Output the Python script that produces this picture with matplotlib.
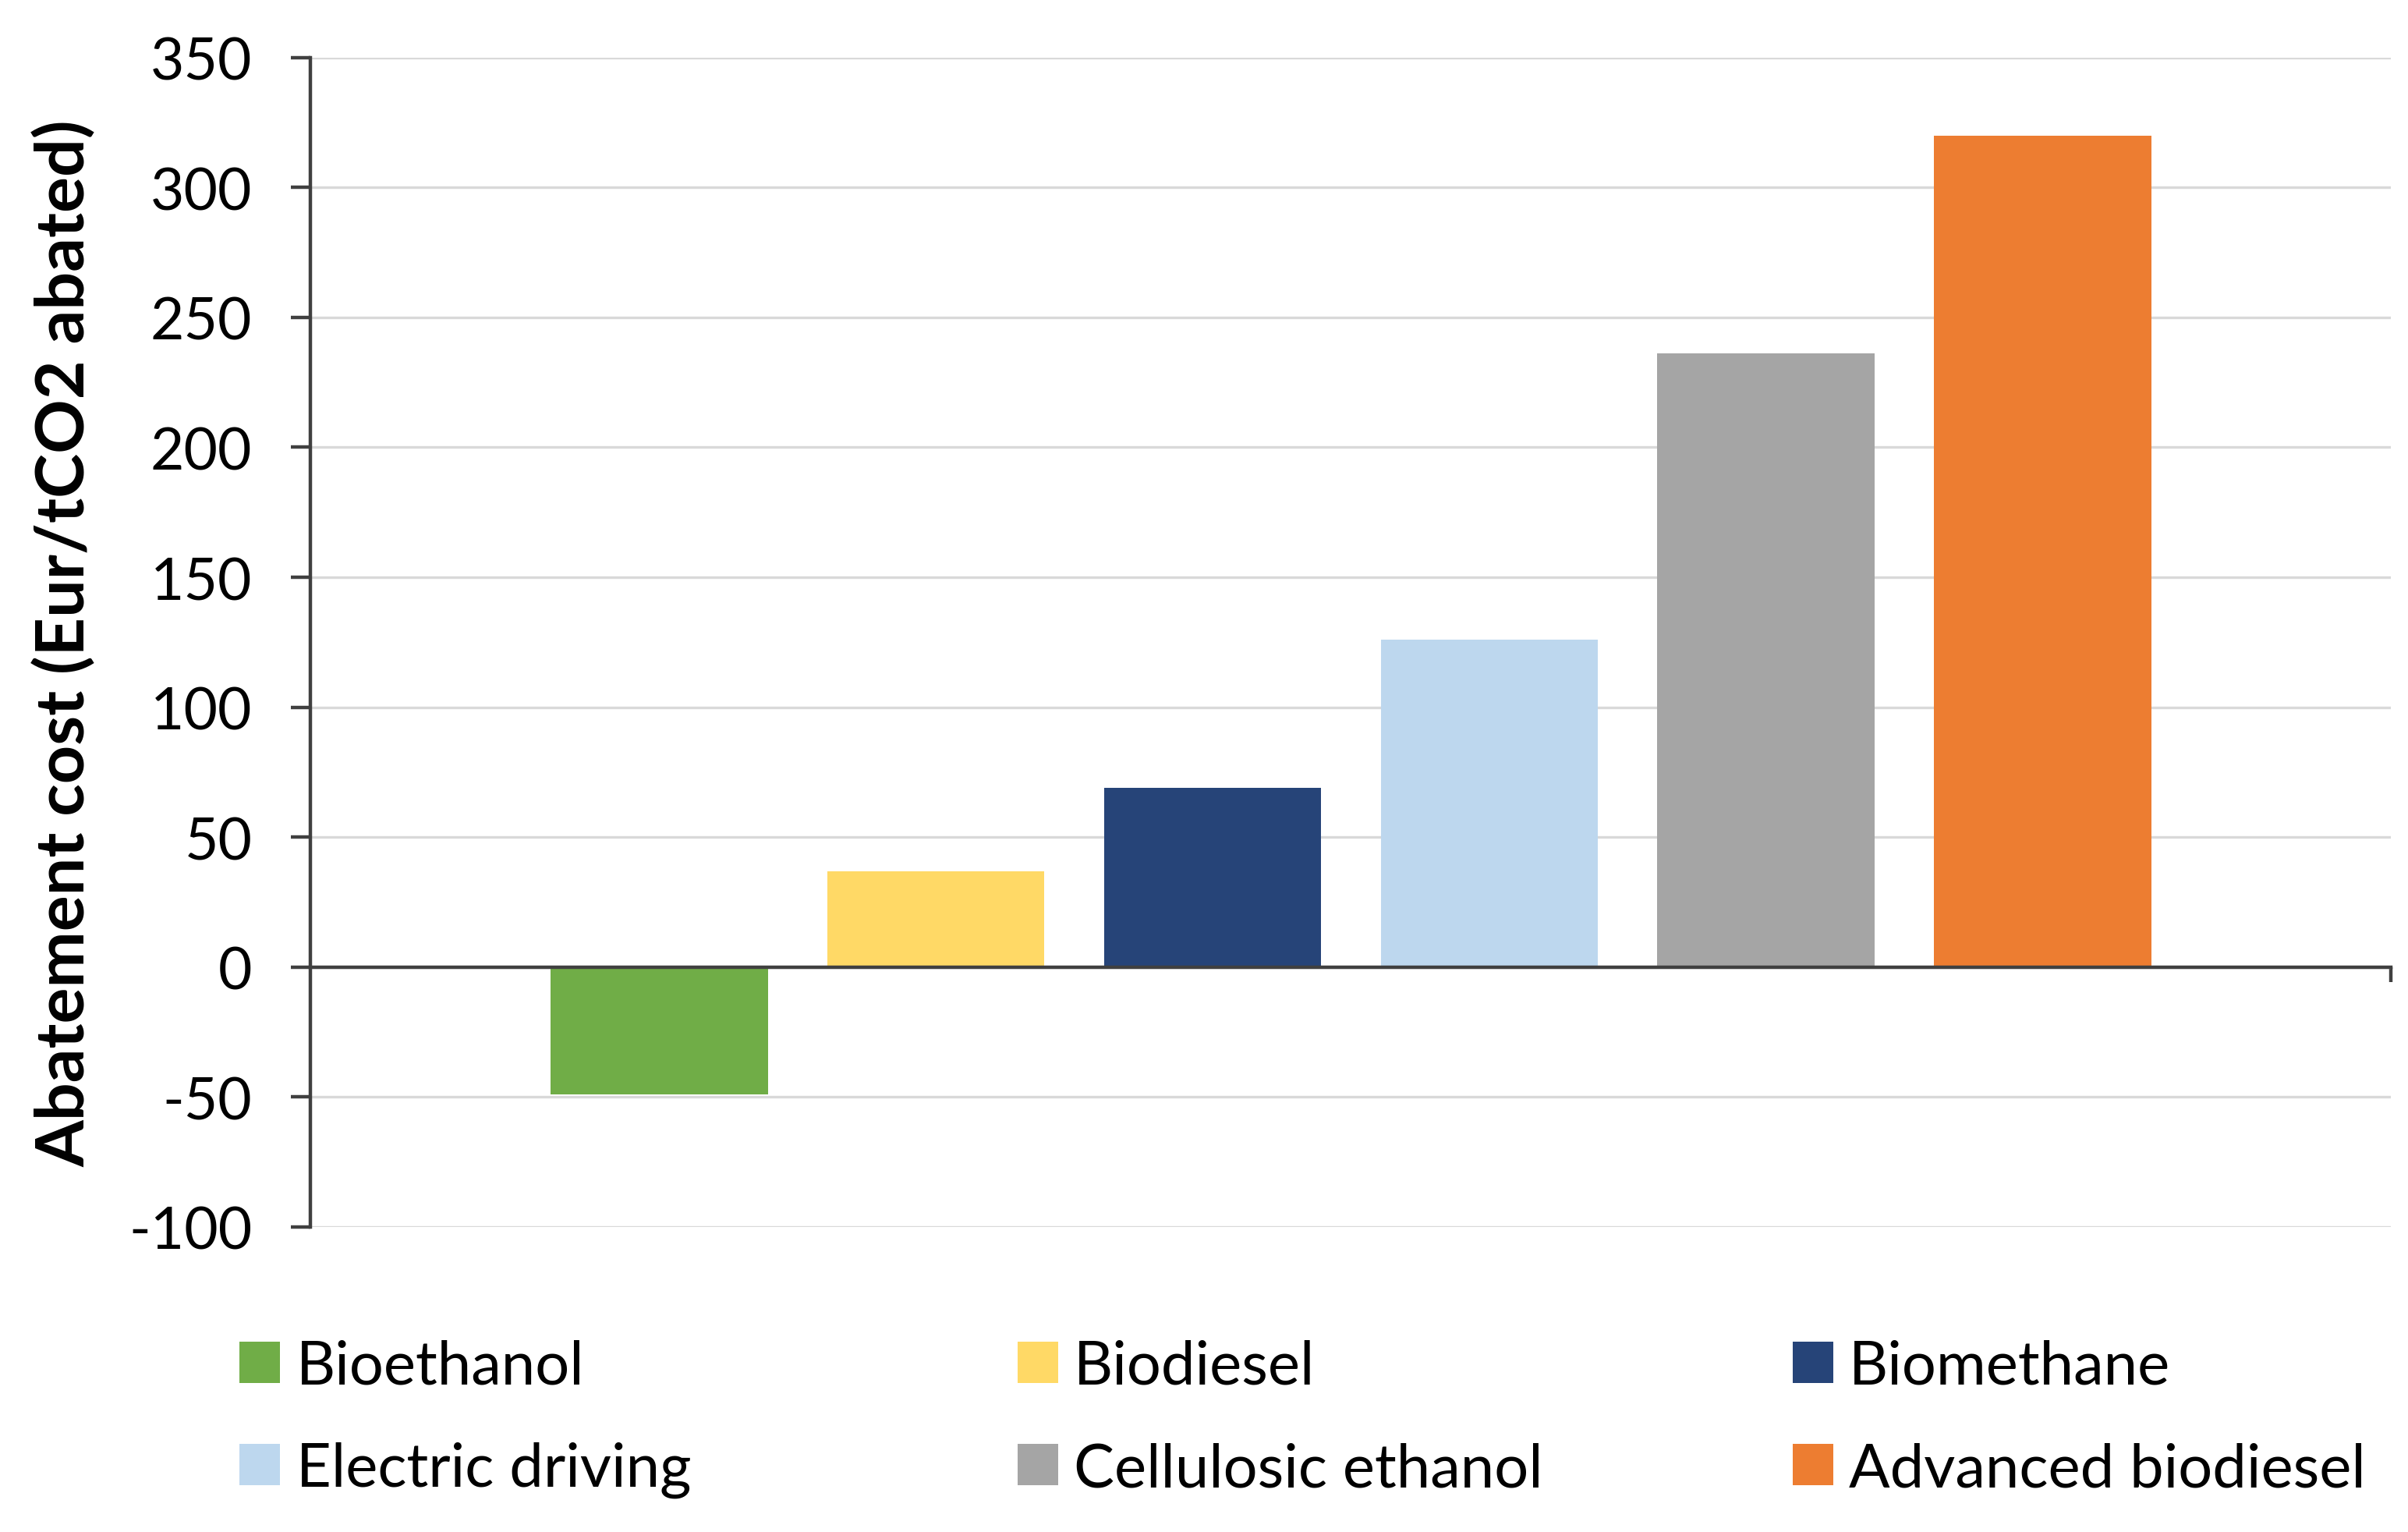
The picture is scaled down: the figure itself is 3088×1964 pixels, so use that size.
import numpy as np
import matplotlib
matplotlib.use('Agg')
import matplotlib.pyplot as plt
from matplotlib.patches import Patch

# data
fuels = ["Bioethanol", "Biodiesel", "Biomethane",
         "Electric driving", "Cellulosic ethanol", "Advanced biodiesel"]
costs = [-49, 37, 69, 126, 236, 320]
colors = ["#70AD47", "#FFD966", "#264478", "#BDD7EE", "#A5A5A5", "#ED7D31"]
y_ticks = [-100, -50, 0, 50, 100, 150, 200, 250, 300, 350]

plt.rcParams['font.family'] = ['Lato', 'DejaVu Sans']

fig = plt.figure(figsize=(15.44, 9.825), dpi=200)
ax = fig.add_axes([0.129, 0.199, 0.864, 0.763])

x = np.arange(len(fuels))
ax.bar(x, costs, width=0.785, color=colors, zorder=3)

ax.set_ylim(-100, 350)
ax.set_xlim(-1.26, len(fuels) - 1 + 1.26)
ax.set_yticks(y_ticks)
ax.set_yticklabels([str(v) for v in y_ticks], fontsize=27)
ax.yaxis.grid(True, color="#D9D9D9", linewidth=1.2, zorder=0)
ax.set_axisbelow(True)

axis_col = "#404040"
for side in ["top", "right"]:
    ax.spines[side].set_visible(False)
ax.spines["left"].set_color(axis_col)
ax.spines["left"].set_linewidth(1.6)
ax.spines["bottom"].set_position(("data", 0))
ax.spines["bottom"].set_color(axis_col)
ax.spines["bottom"].set_linewidth(1.6)
ax.spines["bottom"].set_zorder(4)

ax.tick_params(axis="y", direction="out", length=9, width=1.6, color=axis_col, pad=18)
ax.set_xticks([ax.get_xlim()[1]])
ax.set_xticklabels([])
ax.tick_params(axis="x", direction="out", length=7, width=1.6, color=axis_col)

ax.set_ylabel("Abatement cost (Eur/tCO2 abated)", fontsize=31, fontweight="bold")
ax.yaxis.set_label_coords(-0.103, 0.5)

# legend: three columns of two entries
handles = [Patch(facecolor=c, edgecolor="none") for c in colors]
col_x = [0.0995, 0.4225, 0.7445]
for i, cx in enumerate(col_x):
    idx = [i, i + 3]
    fig.legend([handles[j] for j in idx], [fuels[j] for j in idx],
               loc="upper left", bbox_to_anchor=(cx, 0.126), frameon=False,
               fontsize=28, handlelength=0.67, handleheight=0.67,
               handletextpad=0.26, labelspacing=0.78, borderpad=0,
               borderaxespad=0)

fig.savefig("out.png", dpi=200)
